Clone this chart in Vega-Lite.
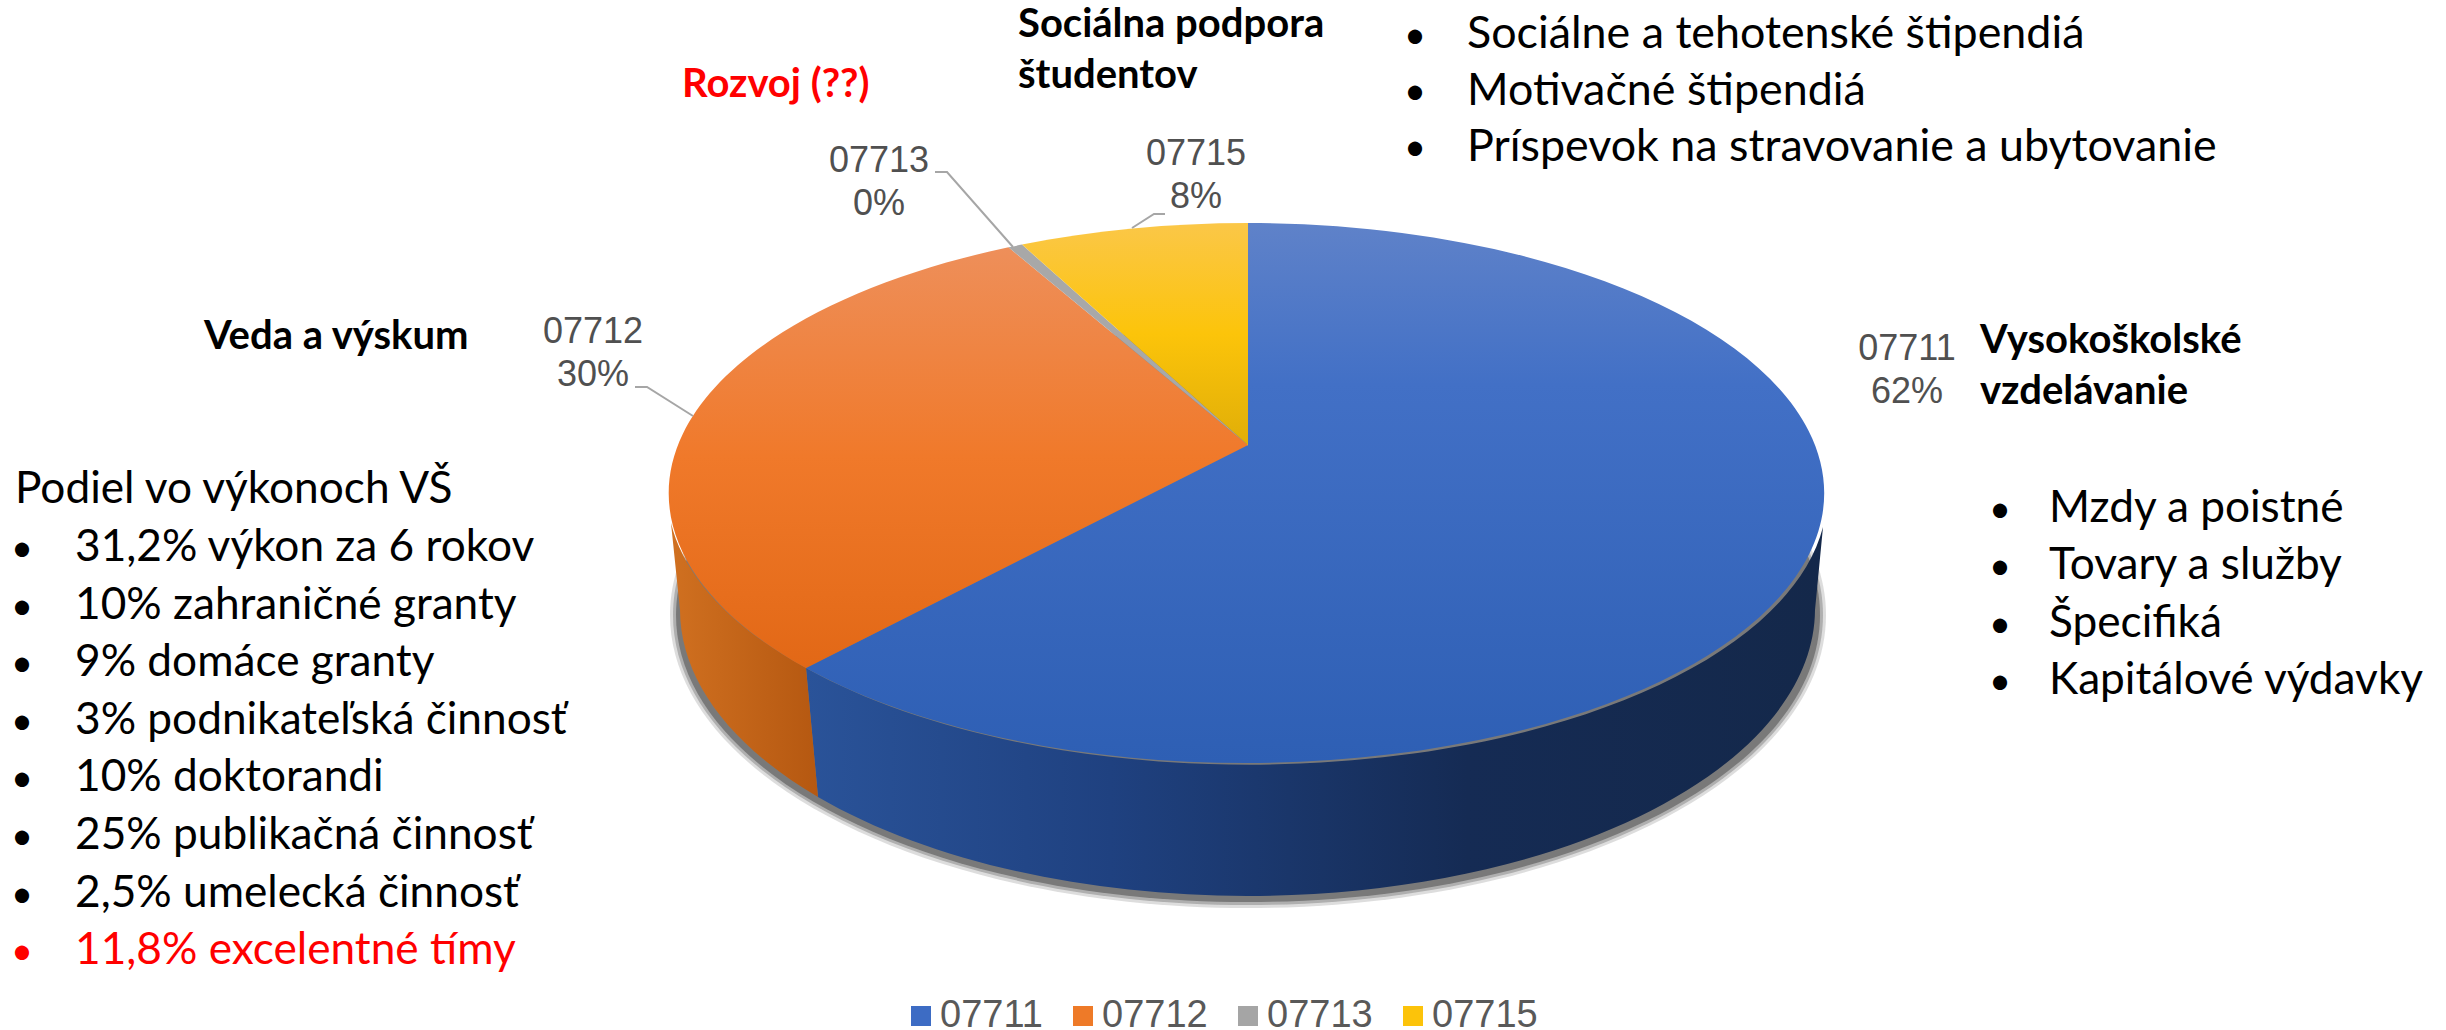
{
"$schema":"https://vega.github.io/schema/vega-lite/v6.json",
"width":2446,"height":1030,"padding":0,"autosize":{"type":"none"},
"background":"white",
"config":{"view":{"stroke":null}},
"datasets":{"slices":[
{"code":"07711","share":62,"label":"07711\n62%"},
{"code":"07712","share":30,"label":"07712\n30%"},
{"code":"07713","share":0,"label":"07713\n0%"},
{"code":"07715","share":8,"label":"07715\n8%"}
]},
"data":{"name":"slices"},
"encoding":{
"x":{"datum":1248,"type":"quantitative","scale":{"domain":[0,2446],"nice":false,"zero":false},"axis":null},
"y":{"datum":445,"type":"quantitative","scale":{"domain":[0,1030],"nice":false,"zero":false,"reverse":true},"axis":null}
},
"layer":[
{"data":{"values":[{"part":"shadow"}]},"mark":{"type":"point","filled":true,"size":4,"fill":"#444444","opacity":0.18,"strokeWidth":0,"shape":"M-578,170 A578,293 0 1 1 578,170 A578,293 0 1 1 -578,170 Z"}},
{"data":{"values":[{"part":"shadow"}]},"mark":{"type":"point","filled":true,"size":4,"fill":"#444444","opacity":0.3,"strokeWidth":0,"shape":"M-575,170 A575,290 0 1 1 575,170 A575,290 0 1 1 -575,170 Z"}},
{"data":{"values":[{"part":"shadow"}]},"mark":{"type":"point","filled":true,"size":4,"fill":"#444444","opacity":0.5,"strokeWidth":0,"shape":"M-572,170 A572,287 0 1 1 572,170 A572,287 0 1 1 -572,170 Z"}},
{"transform":[{"filter":"datum.code==='07711'"}],"mark":{"type":"point","filled":true,"size":4,"opacity":1,"strokeWidth":0,
 "fill":{"gradient":"linear","x1":0,"y1":0,"x2":1,"y2":0,"stops":[{"offset":0,"color":"#2a5399"},{"offset":0.3,"color":"#1f4180"},{"offset":0.65,"color":"#152b54"},{"offset":1,"color":"#14284a"}]},
 "shape":"M575,82 L567,165 A568,287 0 0 1 -430,352 L-442,223 A578,270 0 0 0 575,82 Z"}},
{"transform":[{"filter":"datum.code==='07712'"}],"mark":{"type":"point","filled":true,"size":4,"opacity":1,"strokeWidth":0,
 "fill":{"gradient":"linear","x1":0,"y1":0,"x2":1,"y2":0,"stops":[{"offset":0,"color":"#d07020"},{"offset":1,"color":"#b55811"}]},
 "shape":"M-577,78 L-568,165 A568,287 0 0 0 -430,352 L-442,223 A578,270 0 0 1 -577,78 Z"}},
{"mark":{"type":"point","filled":true,"size":4,"opacity":1,"strokeWidth":0,"shape":"square"},
 "encoding":{
  "color":{"field":"code","type":"nominal","scale":{"domain":["07711","07712","07713","07715"],"range":["#3d6cc4","#ee7a28","#a5a5a5","#fcc30a"]},
   "legend":{"title":null,"orient":"none","legendX":902,"legendY":997,"direction":"horizontal","columns":4,"symbolType":"square","symbolSize":400,"symbolStrokeWidth":0,"labelFont":"Liberation Sans","labelFontSize":38,"labelColor":"#595959","labelLimit":200,"columnPadding":21,"labelOffset":0,"symbolOpacity":1}}
 }},
{"transform":[{"filter":"datum.code==='07711'"}],"mark":{"type":"point","filled":true,"size":4,"opacity":1,"strokeWidth":0,"shape":"M0,0 L0,-222 A578,270 0 1 1 -442,223 Z",
 "fill":{"gradient":"linear","x1":0,"y1":0,"x2":0,"y2":1,"stops":[{"offset":0,"color":"#5f82c9"},{"offset":0.3,"color":"#4270c6"},{"offset":1,"color":"#2e5fb4"}]}}},
{"transform":[{"filter":"datum.code==='07712'"}],"mark":{"type":"point","filled":true,"size":4,"opacity":1,"strokeWidth":0,"shape":"M0,0 L-442,223 A578,270 0 0 1 -239.5,-197.7 Z",
 "fill":{"gradient":"linear","x1":0,"y1":0,"x2":0,"y2":1,"stops":[{"offset":0,"color":"#ee8f5a"},{"offset":0.5,"color":"#f0792a"},{"offset":1,"color":"#e26816"}]}}},
{"transform":[{"filter":"datum.code==='07713'"}],"mark":{"type":"point","filled":true,"size":4,"opacity":1,"strokeWidth":0,"fill":"#a8a8a8","shape":"M0,0 L-239.5,-197.7 A578,270 0 0 1 -226,-200.4 Z"}},
{"transform":[{"filter":"datum.code==='07715'"}],"mark":{"type":"point","filled":true,"size":4,"opacity":1,"strokeWidth":0,"shape":"M0,0 L-226,-200.4 A578,270 0 0 1 0,-222 Z",
 "fill":{"gradient":"linear","x1":0,"y1":0,"x2":0,"y2":1,"stops":[{"offset":0,"color":"#fbc748"},{"offset":0.5,"color":"#fcc40a"},{"offset":1,"color":"#e0ae08"}]}}},
{"transform":[{"filter":"datum.code==='07713'"}],"mark":{"type":"point","filled":false,"size":4,"opacity":1,"stroke":"#a6a6a6","strokeWidth":2,"shape":"M-313,-273 L-301,-273 L-235,-198"}},
{"transform":[{"filter":"datum.code==='07715'"}],"mark":{"type":"point","filled":false,"size":4,"opacity":1,"stroke":"#a6a6a6","strokeWidth":2,"shape":"M-83,-231 L-94,-231 L-116,-217"}},
{"transform":[{"filter":"datum.code==='07712'"}],"mark":{"type":"point","filled":false,"size":4,"opacity":1,"stroke":"#a6a6a6","strokeWidth":2,"shape":"M-613,-58 L-601,-58 L-555,-29"}},
{"transform":[{"filter":"datum.code==='07711'"}],"mark":{"type":"text","font":"Liberation Sans","fontSize":36,"color":"#505050","align":"center","baseline":"alphabetic","lineHeight":43,"lineBreak":"\n"},"encoding":{"text":{"field":"label"},"x":{"datum":1907,"type":"quantitative"},"y":{"datum":360,"type":"quantitative"}}},
{"transform":[{"filter":"datum.code==='07712'"}],"mark":{"type":"text","font":"Liberation Sans","fontSize":36,"color":"#505050","align":"center","baseline":"alphabetic","lineHeight":43,"lineBreak":"\n"},"encoding":{"text":{"field":"label"},"x":{"datum":593,"type":"quantitative"},"y":{"datum":343,"type":"quantitative"}}},
{"transform":[{"filter":"datum.code==='07713'"}],"mark":{"type":"text","font":"Liberation Sans","fontSize":36,"color":"#505050","align":"center","baseline":"alphabetic","lineHeight":43,"lineBreak":"\n"},"encoding":{"text":{"field":"label"},"x":{"datum":879,"type":"quantitative"},"y":{"datum":172,"type":"quantitative"}}},
{"transform":[{"filter":"datum.code==='07715'"}],"mark":{"type":"text","font":"Liberation Sans","fontSize":36,"color":"#505050","align":"center","baseline":"alphabetic","lineHeight":43,"lineBreak":"\n"},"encoding":{"text":{"field":"label"},"x":{"datum":1196,"type":"quantitative"},"y":{"datum":165,"type":"quantitative"}}},
{"data":{"values":[{"t":"Vysokoškolské\nvzdelávanie"}]},"mark":{"type":"text","font":"Lato","fontWeight":"bold","fontSize":40,"color":"#000000","align":"left","baseline":"alphabetic","lineHeight":51,"lineBreak":"\n"},"encoding":{"text":{"field":"t"},"x":{"datum":1980,"type":"quantitative"},"y":{"datum":353,"type":"quantitative"}}},
{"data":{"values":[{"t":"Veda a výskum"}]},"mark":{"type":"text","font":"Lato","fontWeight":"bold","fontSize":40,"color":"#000000","align":"left","baseline":"alphabetic"},"encoding":{"text":{"field":"t"},"x":{"datum":204,"type":"quantitative"},"y":{"datum":349,"type":"quantitative"}}},
{"data":{"values":[{"t":"Rozvoj (??)"}]},"mark":{"type":"text","font":"Lato","fontWeight":"bold","fontSize":40,"color":"#ff0000","align":"left","baseline":"alphabetic"},"encoding":{"text":{"field":"t"},"x":{"datum":682,"type":"quantitative"},"y":{"datum":97,"type":"quantitative"}}},
{"data":{"values":[{"t":"Sociálna podpora\nštudentov"}]},"mark":{"type":"text","font":"Lato","fontWeight":"bold","fontSize":40,"color":"#000000","align":"left","baseline":"alphabetic","lineHeight":51,"lineBreak":"\n"},"encoding":{"text":{"field":"t"},"x":{"datum":1018,"type":"quantitative"},"y":{"datum":37,"type":"quantitative"}}},
{"data":{"values":[{"t":"•\n•\n•"}]},"mark":{"type":"text","font":"Lato","fontSize":38,"color":"#000000","align":"left","baseline":"alphabetic","lineHeight":56,"lineBreak":"\n"},"encoding":{"text":{"field":"t"},"x":{"datum":1404,"type":"quantitative"},"y":{"datum":48,"type":"quantitative"}}},
{"data":{"values":[{"t":"Sociálne a tehotenské štipendiá\nMotivačné štipendiá\nPríspevok na stravovanie a ubytovanie"}]},"mark":{"type":"text","font":"Lato","fontSize":44.8,"color":"#000000","align":"left","baseline":"alphabetic","lineHeight":56.5,"lineBreak":"\n"},"encoding":{"text":{"field":"t"},"x":{"datum":1467,"type":"quantitative"},"y":{"datum":48,"type":"quantitative"}}},
{"data":{"values":[{"t":"•\n•\n•\n•"}]},"mark":{"type":"text","font":"Lato","fontSize":38,"color":"#000000","align":"left","baseline":"alphabetic","lineHeight":57.3,"lineBreak":"\n"},"encoding":{"text":{"field":"t"},"x":{"datum":1989,"type":"quantitative"},"y":{"datum":522,"type":"quantitative"}}},
{"data":{"values":[{"t":"Mzdy a poistné\nTovary a služby\nŠpecifiká\nKapitálové výdavky"}]},"mark":{"type":"text","font":"Lato","fontSize":44.2,"color":"#000000","align":"left","baseline":"alphabetic","lineHeight":57.3,"lineBreak":"\n"},"encoding":{"text":{"field":"t"},"x":{"datum":2049,"type":"quantitative"},"y":{"datum":522,"type":"quantitative"}}},
{"data":{"values":[{"t":"Podiel vo výkonoch VŠ"}]},"mark":{"type":"text","font":"Lato","fontSize":44.2,"color":"#000000","align":"left","baseline":"alphabetic"},"encoding":{"text":{"field":"t"},"x":{"datum":15,"type":"quantitative"},"y":{"datum":503,"type":"quantitative"}}},
{"data":{"values":[{"t":"•\n•\n•\n•\n•\n•\n•"}]},"mark":{"type":"text","font":"Lato","fontSize":38,"color":"#000000","align":"left","baseline":"alphabetic","lineHeight":57.6,"lineBreak":"\n"},"encoding":{"text":{"field":"t"},"x":{"datum":11,"type":"quantitative"},"y":{"datum":561,"type":"quantitative"}}},
{"data":{"values":[{"t":"31,2% výkon za 6 rokov\n10% zahraničné granty\n9% domáce granty\n3% podnikateľská činnosť\n10% doktorandi\n25% publikačná činnosť\n2,5% umelecká činnosť"}]},"mark":{"type":"text","font":"Lato","fontSize":44.2,"color":"#000000","align":"left","baseline":"alphabetic","lineHeight":57.6,"lineBreak":"\n"},"encoding":{"text":{"field":"t"},"x":{"datum":75,"type":"quantitative"},"y":{"datum":561,"type":"quantitative"}}},
{"data":{"values":[{"t":"•"}]},"mark":{"type":"text","font":"Lato","fontSize":38,"color":"#ff0000","align":"left","baseline":"alphabetic"},"encoding":{"text":{"field":"t"},"x":{"datum":11,"type":"quantitative"},"y":{"datum":964,"type":"quantitative"}}},
{"data":{"values":[{"t":"11,8% excelentné tímy"}]},"mark":{"type":"text","font":"Lato","fontSize":44.2,"color":"#ff0000","align":"left","baseline":"alphabetic"},"encoding":{"text":{"field":"t"},"x":{"datum":75,"type":"quantitative"},"y":{"datum":964,"type":"quantitative"}}}
]
}
